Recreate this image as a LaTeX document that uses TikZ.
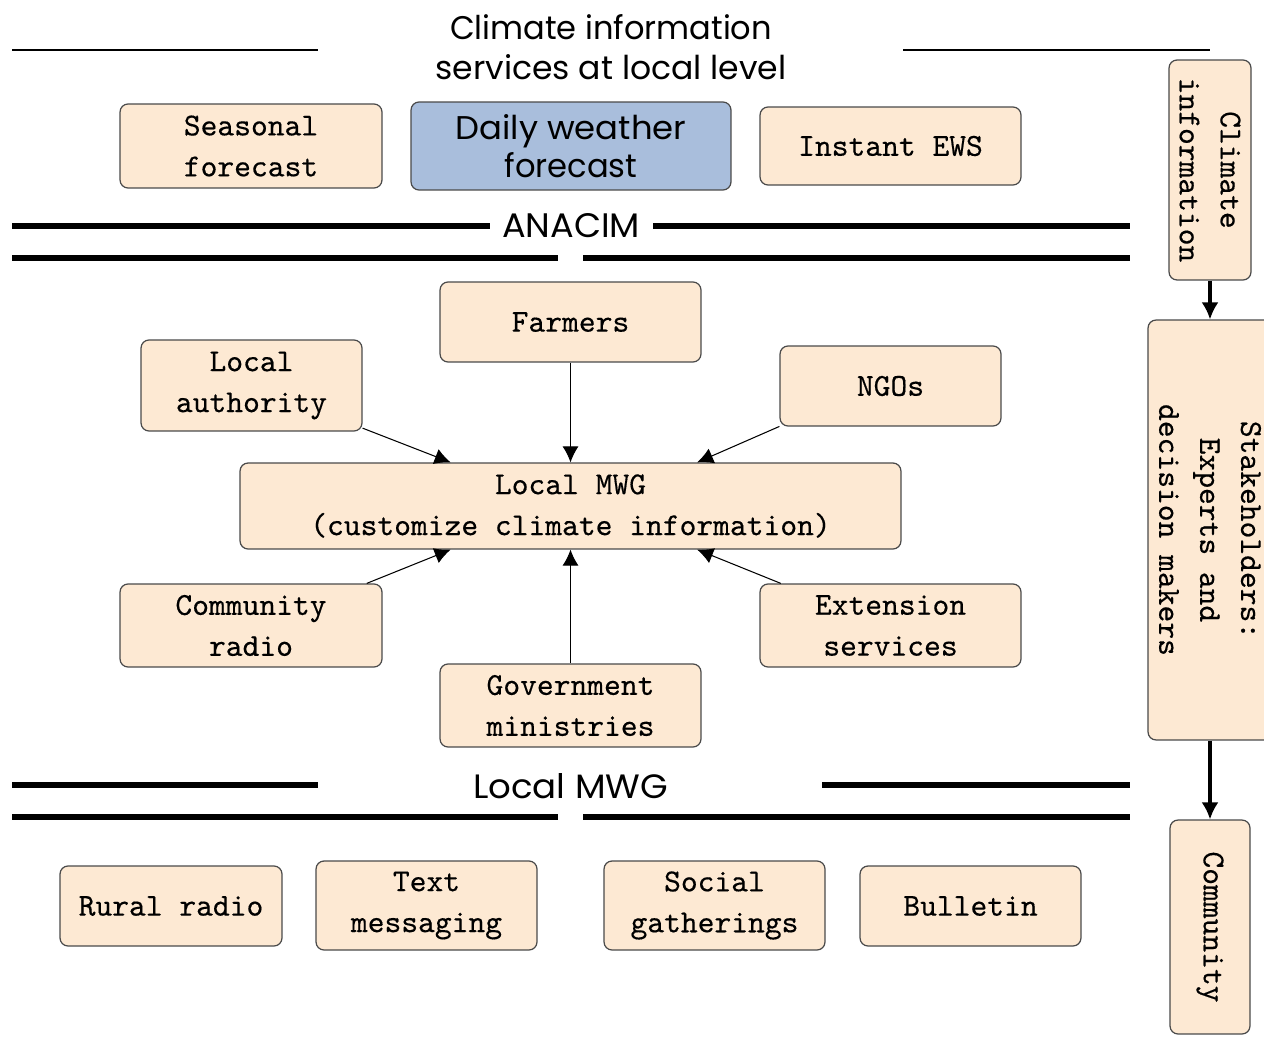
\documentclass[tikz,border=0pt]{standalone}
\usepackage{fontspec}
\newfontfamily\hfont{Poppins}
\newfontfamily\boxfont{lmmono10-regular.otf}[FakeBold=0.35]
\usetikzlibrary{arrows.meta}
\definecolor{peach}{HTML}{FDE9D3}
\definecolor{skyb}{HTML}{A9BEDC}
\definecolor{edgec}{HTML}{4A4A4A}
\newcommand{\hd}[3]{\resizebox{#1cm}{#2cm}{\hfont #3}}
\begin{document}
\begin{tikzpicture}[x=0.02cm,y=-0.02cm,
  box/.style={draw=edgec, fill=peach, line width=0.7pt, rounded corners=0.16cm,
    inner sep=0pt, align=center, font=\boxfont\fontsize{18.2}{23.3}\selectfont},
  thinrule/.style={line width=0.85pt},
  thickrule/.style={line width=2.9pt},
  conn/.style={line width=0.6pt, -{Latex[length=0.32cm,width=0.32cm]}},
  bigconn/.style={line width=1.8pt, -{Latex[length=0.34cm,width=0.34cm]}},
  hlabel/.style={inner sep=0pt, anchor=base}
]
\fill[white] (0,0) rectangle (1264,1037);
\useasboundingbox (0,0) rectangle (1264,1037);
\clip (0,0) rectangle (1264,1037);

% headings
\node[hlabel] (t1) at (611,40) {\hd{6.44}{0.5}{Climate information}};
\node[hlabel] (t2) at (611,80) {\hd{7.02}{0.5}{services at local level}};
\draw[thinrule] (12,50) -- (318,50);
\draw[thinrule] (903,50) -- (1210,50);

% top row
\node[box, minimum width=5.24cm, minimum height=1.68cm] (seasonal) at (251,146) {Seasonal\\forecast};
\node[box, fill=skyb, minimum width=6.4cm, minimum height=1.76cm,
  font=\fontsize{20}{21.6}\selectfont] (daily) at (571,146)
  {\hd{4.62}{0.5}{Daily weather}\\\hd{2.66}{0.5}{forecast}};
\node[box, minimum width=5.22cm, minimum height=1.56cm] (instant) at (890.5,146) {Instant EWS};

% ANACIM rules
\node[hlabel] (anacim) at (571,238) {\hd{2.76}{0.48}{ANACIM}};
\draw[thickrule] (12,226) -- (490,226);
\draw[thickrule] (653,226) -- (1130,226);
\draw[thickrule] (12,258) -- (558,258);
\draw[thickrule] (583,258) -- (1130,258);

% middle
\node[box, minimum width=5.22cm, minimum height=1.6cm] (farmers) at (570.5,322) {Farmers};
\node[box, minimum width=4.42cm, minimum height=1.82cm] (localauth) at (251.5,385.5) {Local\\authority};
\node[box, minimum width=4.42cm, minimum height=1.6cm] (ngos) at (890.5,386) {NGOs};
\node[box, minimum width=13.22cm, minimum height=1.72cm] (mwg) at (570.5,506) {Local MWG\\(customize climate information)};
\node[box, minimum width=5.24cm, minimum height=1.66cm] (commradio) at (251,625.5) {Community\\radio};
\node[box, minimum width=5.22cm, minimum height=1.66cm] (gov) at (570.5,705.5) {Government\\ministries};
\node[box, minimum width=5.22cm, minimum height=1.66cm] (ext) at (890.5,625.5) {Extension\\services};

\draw[conn] (farmers.south) -- (mwg.north);
\draw[conn] (localauth.-21) -- (mwg.160.8);
\draw[conn] (ngos.200.7) -- (mwg.19.8);
\draw[conn] (commradio.20.2) -- (mwg.-160.1);
\draw[conn] (gov.north) -- (mwg.south);
\draw[conn] (ext.159.5) -- (mwg.-19.8);

% Local MWG rules
\node[hlabel] (lmwg) at (570.5,798) {\hd{3.9}{0.5}{Local MWG}};
\draw[thickrule] (12,785) -- (318,785);
\draw[thickrule] (822,785) -- (1130,785);
\draw[thickrule] (12,817) -- (558,817);
\draw[thickrule] (583,817) -- (1130,817);

% bottom row
\node[box, minimum width=4.44cm, minimum height=1.6cm] (rural) at (171,906) {Rural radio};
\node[box, minimum width=4.42cm, minimum height=1.78cm] (textmsg) at (426.5,905.5) {Text\\messaging};
\node[box, minimum width=4.42cm, minimum height=1.78cm] (social) at (714.5,905.5) {Social\\gatherings};
\node[box, minimum width=4.42cm, minimum height=1.6cm] (bulletin) at (970.5,906) {Bulletin};

% right column
\node[box, rotate=-90, minimum width=4.4cm, minimum height=1.64cm] (climinfo) at (1210,170) {Climate\\information};
\node[box, rotate=-90, minimum width=8.4cm, minimum height=2.48cm] (stake) at (1210,530) {Stakeholders:\\Experts and\\decision makers};
\node[box, rotate=-90, minimum width=4.28cm, minimum height=1.6cm] (community) at (1210,927) {Community};
\draw[bigconn] (climinfo.east) -- (stake.west);
\draw[bigconn] (stake.east) -- (community.west);
\end{tikzpicture}
\end{document}
